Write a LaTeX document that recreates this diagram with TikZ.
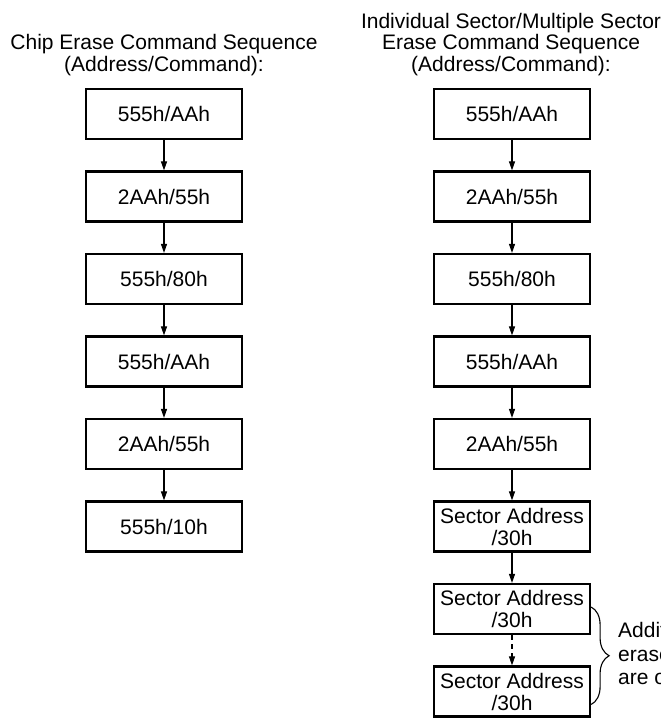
\documentclass[tikz,border=0pt]{standalone}
\usepackage{fontspec}
\setmainfont{Liberation Sans}
\usetikzlibrary{arrows.meta, positioning, decorations.pathreplacing, calc}

\begin{document}
\begin{tikzpicture}[
    x=1pt, y=-1pt,
    node distance=30.3pt,
    cmdbox/.style={
      draw=black,
      minimum height=50pt,
      minimum width=156pt,
      inner sep=0pt,
      align=center,
      font=\fontsize{21}{22}\selectfont,
      line width=2.2pt,
    },
    seqtitle/.style={align=center, anchor=base, inner sep=0pt, font=\fontsize{21}{21.5}\selectfont},
    arr/.style={-{Triangle[length=9pt,width=6pt]}, line width=1.1pt},
  ]
  \useasboundingbox (0,0) rectangle (661,720);
  \clip (0,0) rectangle (661,720);

  % base anchor = last line
  \node[seqtitle] (chiptitle) at (164,71) {Chip Erase Command Sequence\\(Address/Command):};
  \node[seqtitle] (sectitle) at (511,71) {Individual Sector/Multiple Sector\\Erase Command Sequence\\(Address/Command):};

  % chip erase
  \node[cmdbox] (c1) at (164,114) {555h/AAh};
  \node[cmdbox, below=of c1] (c2) {2AAh/55h};
  \node[cmdbox, below=of c2] (c3) {555h/80h};
  \node[cmdbox, below=of c3] (c4) {555h/AAh};
  \node[cmdbox, below=of c4] (c5) {2AAh/55h};
  \node[cmdbox, below=of c5] (c6) {555h/10h};

  % sector erase
  \node[cmdbox] (s1) at (512,114) {555h/AAh};
  \node[cmdbox, below=of s1] (s2) {2AAh/55h};
  \node[cmdbox, below=of s2] (s3) {555h/80h};
  \node[cmdbox, below=of s3] (s4) {555h/AAh};
  \node[cmdbox, below=of s4] (s5) {2AAh/55h};
  \node[cmdbox, below=of s5] (sa1) {Sector Address\\/30h};
  \node[cmdbox, below=of sa1] (sa2) {Sector Address\\/30h};
  \node[cmdbox, below=of sa2] (sa3) {Sector Address\\/30h};

  \draw[arr] (c1) -- (c2);
  \draw[arr] (c2) -- (c3);
  \draw[arr] (c3) -- (c4);
  \draw[arr] (c4) -- (c5);
  \draw[arr] (c5) -- (c6);

  \draw[arr] (s1) -- (s2);
  \draw[arr] (s2) -- (s3);
  \draw[arr] (s3) -- (s4);
  \draw[arr] (s4) -- (s5);
  \draw[arr] (s5) -- (sa1);
  \draw[arr] (sa1) -- (sa2);
  \draw[arr, dash pattern=on 5pt off 4pt] (sa2) -- (sa3);

  % optional repeats
  \draw[decorate, decoration={brace, amplitude=18pt}, line width=1.1pt]
    ($(sa2.east)+(0,-2)$) -- ($(sa3.east)+(0,13)$);
  \node[anchor=west, align=left, inner sep=0pt, font=\fontsize{21}{23.5}\selectfont] (note) at (618,656)
    {Additional sector\\erase commands\\are optional};
\end{tikzpicture}
\end{document}
